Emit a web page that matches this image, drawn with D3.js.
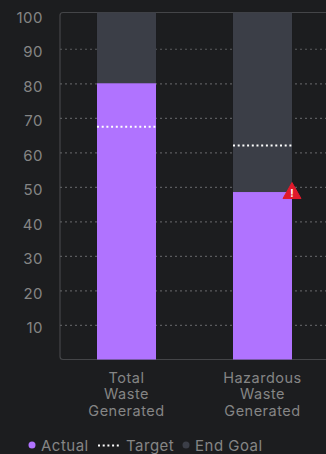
<!DOCTYPE html>
<html>
<head>
<meta charset="utf-8">
<script src="https://cdn.jsdelivr.net/npm/d3@7"></script>
<style>
html,body{margin:0;padding:0;background:#1c1d1f;overflow:hidden}
svg{display:block}
text{font-family:Inter,"Open Sans",sans-serif;letter-spacing:.5px}
</style>
</head>
<body>
<svg id="chart" width="326" height="454"></svg>
<script>
// Waste metrics against their interim target and the end goal
const categories = [["Total","Waste","Generated"],["Hazardous","Waste","Generated"]];
const actual = [80, 48.5];
const target = [67.4, 62];
const endGoal = [100.5, 100.5];
const flagged = [false, true];
const yTicks = [10,20,30,40,50,60,70,80,90,100];

const colors = {bg:"#1c1d1f", actual:"#b073ff", goal:"#3b3e47", grid:"#5a5b5e", frame:"#444548", text:"#858585", target:"#ffffff", alert:"#e0192b"};
const left = 60, top_ = 12.5, bottom = 359.5, right = 329;

const svg = d3.select("#chart");
const x = d3.scaleBand().domain(d3.range(categories.length)).range([left,right]).paddingInner(0.566).paddingOuter(0.272);
const y = d3.scaleLinear().domain([0,100.5]).range([bottom,top_]);

// Plot frame, open toward the right edge
svg.append("path")
  .attr("d",`M${right},${top_}H${left+3}Q${left},${top_} ${left},${top_+3}V${bottom-3}Q${left},${bottom} ${left+3},${bottom}H${right}`)
  .attr("fill","none").attr("stroke",colors.frame).attr("stroke-width",1.2);

// Dotted horizontal gridlines, with labels from the left axis
const yAxis = svg.append("g").attr("transform",`translate(${left},0)`)
  .call(d3.axisLeft(y).tickValues(yTicks).tickSize(0).tickPadding(17));
yAxis.select(".domain").remove();
yAxis.selectAll("text").attr("fill",colors.text).attr("font-size",15).attr("dy","0.52em");
yAxis.selectAll(".tick").append("line")
  .attr("x1",0).attr("x2",right-left)
  .attr("stroke",colors.grid).attr("stroke-width",1.2).attr("stroke-dasharray","2 3")
  .filter(d=>d===100).remove();

const g = svg.selectAll("g.bar").data(categories.map((c,i)=>i)).join("g").attr("class","bar");

g.append("rect").attr("x",i=>x(i)).attr("width",x.bandwidth())
  .attr("y",i=>y(endGoal[i])).attr("height",i=>y(0)-y(endGoal[i])).attr("fill",colors.goal);
g.append("rect").attr("x",i=>x(i)).attr("width",x.bandwidth())
  .attr("y",i=>y(actual[i])).attr("height",i=>y(0)-y(actual[i])).attr("fill",colors.actual);
g.append("line").attr("x1",i=>x(i)).attr("x2",i=>x(i)+x.bandwidth())
  .attr("y1",i=>y(target[i])).attr("y2",i=>y(target[i]))
  .attr("stroke",colors.target).attr("stroke-width",2).attr("stroke-dasharray","2 2.7");

// Warning marker on bars that miss their target
const alerts = g.filter(i=>flagged[i]).append("g")
  .attr("transform",i=>`translate(${x(i)+x.bandwidth()},${y(actual[i])})`);
alerts.append("path").attr("d","M0,-9.5L9,6.5H-9Z").attr("fill",colors.alert).attr("stroke",colors.alert).attr("stroke-linejoin","round");
alerts.append("text").attr("text-anchor","middle").attr("y",4.5).attr("font-size",10).attr("font-weight",700).attr("fill","#fff").style("letter-spacing",0).text("!");

// Category labels, one line per word
g.append("text").attr("text-anchor","middle").attr("fill",colors.text).attr("font-size",14.5)
  .selectAll("tspan").data(i=>categories[i].map(w=>({w,i}))).join("tspan")
  .attr("x",d=>x(d.i)+x.bandwidth()/2)
  .attr("y",(d,k)=>383+k*16.4)
  .text(d=>d.w);

// Legend
const legend = svg.append("g").attr("font-size",15).attr("fill",colors.text);
legend.append("circle").attr("cx",32).attr("cy",445).attr("r",3.5).attr("fill",colors.actual);
legend.append("text").attr("x",41).attr("y",450.5).text("Actual");
legend.append("line").attr("x1",98).attr("x2",120).attr("y1",445.5).attr("y2",445.5)
  .attr("stroke",colors.target).attr("stroke-width",2).attr("stroke-dasharray","2 2.7");
legend.append("text").attr("x",126).attr("y",450.5).text("Target");
legend.append("circle").attr("cx",186).attr("cy",445).attr("r",3.5).attr("fill",colors.goal);
legend.append("text").attr("x",195).attr("y",450.5).text("End Goal");
</script>
</body>
</html>
